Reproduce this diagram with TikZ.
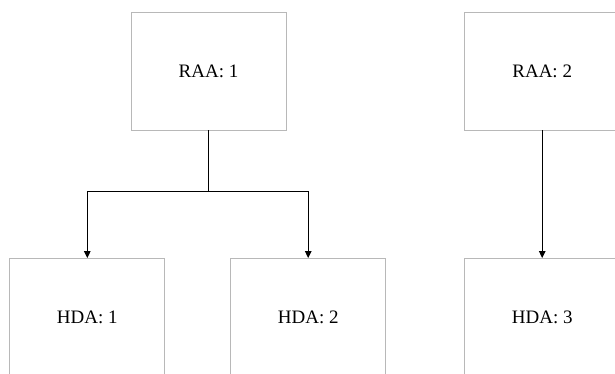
\documentclass[tikz,border=0pt]{standalone}
\usepackage{fontspec}
\setmainfont{Liberation Serif}
\usetikzlibrary{arrows.meta}

\begin{document}
\begin{tikzpicture}[x=1pt,y=-1pt,
	box/.style={draw=black!28,line width=0.9pt,minimum width=155pt,minimum height=118pt,font=\fontsize{19}{22}\selectfont,inner sep=0pt},
	link/.style={line width=1.1pt,-{Triangle[length=7pt,width=6.5pt]}}]
			\useasboundingbox (0,0) rectangle (615,374);
			\node[box] (raa1) at (208.5,71) {RAA: 1};
			\node[box] (raa2) at (542.2,71) {RAA: 2};
			\node[box] (hda1) at (87.3,317.5) {HDA: 1};
			\node[box] (hda2) at (308.2,317.5) {HDA: 2};
			\node[box] (hda3) at (542.2,317.5) {HDA: 3};
			\coordinate (split) at (208.5,191.5);
			\draw[link] (raa1.south) -- (split) -| (hda1.north);
			\draw[link] (split) -| (hda2.north);
			\draw[link] (raa2.south) -- (hda3.north);
		\end{tikzpicture}
\end{document}
